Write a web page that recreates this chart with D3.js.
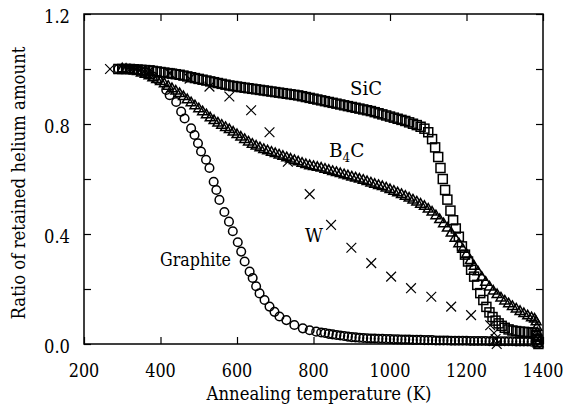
<!DOCTYPE html>
<html>
<head>
<meta charset="utf-8">
<script src="https://cdn.jsdelivr.net/npm/d3@7"></script>
<style>
    body { margin: 0; background: #fff; }
</style>
</head>
<body>
<svg id="chart" width="568" height="410"></svg>
<script>
// Helium retention vs annealing temperature

const xTicks = [200, 400, 600, 800, 1000, 1200, 1400];
const yTicks = [0, 0.2, 0.4, 0.6, 0.8, 1.0, 1.2];
const yLabels = [0, 0.4, 0.8, 1.2];

// SiC (squares)
const sicT = [290, 300, 310, 320, 330, 340, 350, 360, 370, 380, 390, 400, 410, 420, 430, 440, 450, 460, 470, 480,
    490, 500, 510, 520, 530, 540, 550, 560, 570, 580, 590, 600, 610, 620, 630, 640, 650, 660, 670, 680,
    690, 700, 710, 720, 730, 740, 750, 760, 770, 780, 790, 800, 810, 820, 830, 840, 850, 860, 870, 880,
    890, 900, 910, 920, 930, 940, 950, 960, 970, 980, 990, 1000, 1010, 1020, 1030, 1040, 1050, 1060, 1070, 1080,
    1090, 1100, 1110, 1118, 1126, 1132, 1138, 1144, 1150, 1158, 1165, 1172, 1180, 1188, 1196, 1204, 1212, 1220, 1228, 1236,
    1244, 1252, 1260, 1268, 1276, 1284, 1292, 1300, 1310, 1320, 1330, 1340, 1350, 1360, 1370, 1378, 1382, 1385, 1387, 1388];
const sicV = [1.000, 1.000, 1.000, 1.000, 0.999, 0.998, 0.997, 0.996, 0.995, 0.993, 0.991, 0.989, 0.987, 0.985, 0.983, 0.981, 0.979, 0.976, 0.973, 0.970,
    0.967, 0.964, 0.961, 0.958, 0.955, 0.952, 0.949, 0.946, 0.943, 0.940, 0.938, 0.936, 0.934, 0.932, 0.930, 0.928, 0.926, 0.924, 0.922, 0.920,
    0.918, 0.916, 0.914, 0.912, 0.910, 0.908, 0.906, 0.904, 0.901, 0.898, 0.895, 0.892, 0.889, 0.886, 0.883, 0.880, 0.877, 0.874, 0.871, 0.868,
    0.865, 0.862, 0.859, 0.856, 0.853, 0.850, 0.847, 0.843, 0.839, 0.835, 0.831, 0.827, 0.823, 0.819, 0.815, 0.811, 0.806, 0.801, 0.796, 0.790,
    0.783, 0.770, 0.745, 0.715, 0.680, 0.640, 0.600, 0.560, 0.525, 0.485, 0.450, 0.420, 0.390, 0.355, 0.325, 0.300, 0.270, 0.245, 0.215, 0.185,
    0.160, 0.135, 0.115, 0.098, 0.085, 0.075, 0.066, 0.059, 0.053, 0.049, 0.047, 0.045, 0.044, 0.043, 0.042, 0.040, 0.030, 0.018, 0.008, 0.000];

// B4C (triangles)
const b4cT = [300, 310, 320, 330, 340, 350, 360, 370, 380, 390, 400, 410, 420, 430, 440, 450, 460, 470, 480, 490,
    500, 510, 520, 530, 540, 550, 560, 570, 580, 590, 600, 610, 620, 630, 640, 650, 660, 670, 680, 690,
    700, 710, 720, 730, 740, 750, 760, 770, 780, 790, 800, 810, 820, 830, 840, 850, 860, 870, 880, 890,
    900, 910, 920, 930, 940, 950, 960, 970, 980, 990, 1000, 1010, 1020, 1030, 1040, 1050, 1060, 1070, 1080, 1090,
    1100, 1110, 1120, 1130, 1140, 1150, 1160, 1170, 1180, 1190, 1200, 1210, 1220, 1230, 1240, 1250, 1260, 1270, 1280, 1290,
    1300, 1310, 1320, 1330, 1340, 1350, 1360, 1370, 1378, 1382, 1384, 1385, 1386, 1387];
const b4cV = [1.000, 0.998, 0.996, 0.993, 0.990, 0.985, 0.980, 0.975, 0.968, 0.961, 0.954, 0.946, 0.937, 0.928, 0.919, 0.910, 0.899, 0.888, 0.877, 0.866,
    0.855, 0.844, 0.833, 0.822, 0.812, 0.803, 0.795, 0.787, 0.779, 0.770, 0.761, 0.752, 0.743, 0.734, 0.726, 0.719, 0.713, 0.707, 0.702, 0.697,
    0.692, 0.687, 0.682, 0.677, 0.672, 0.667, 0.662, 0.657, 0.652, 0.648, 0.645, 0.642, 0.639, 0.635, 0.631, 0.627, 0.623, 0.619, 0.615, 0.611,
    0.607, 0.603, 0.599, 0.595, 0.590, 0.585, 0.580, 0.576, 0.572, 0.567, 0.561, 0.555, 0.549, 0.543, 0.537, 0.530, 0.523, 0.516, 0.508, 0.500,
    0.490, 0.479, 0.466, 0.452, 0.437, 0.421, 0.403, 0.384, 0.364, 0.344, 0.325, 0.303, 0.282, 0.262, 0.242, 0.224, 0.207, 0.192, 0.179, 0.167,
    0.156, 0.146, 0.136, 0.127, 0.118, 0.110, 0.102, 0.095, 0.090, 0.080, 0.060, 0.040, 0.020, 0.000];

// Graphite (circles)
const grT = [290, 300, 310, 320, 330, 340, 350, 360, 370, 380, 393, 415, 424, 441, 454, 463, 480, 489, 498, 506,
    519, 528, 539, 546, 554, 567, 579, 589, 602, 611, 620, 633, 641, 650, 659, 672, 685, 698, 711, 729,
    750, 772, 790, 807, 820, 830, 840, 850, 860, 870, 880, 890, 900, 910, 920, 930, 940, 950, 960, 970,
    980, 990, 1000, 1010, 1020, 1030, 1040, 1050, 1060, 1070, 1080, 1090, 1100, 1110, 1120, 1130, 1140, 1150, 1160, 1170,
    1180, 1190, 1200, 1210, 1220, 1230, 1240, 1250, 1260, 1270, 1280, 1290, 1300, 1310, 1320, 1330, 1340, 1350, 1360, 1370,
    1380, 1385];
const grV = [1.000, 1.000, 1.000, 0.999, 0.998, 0.995, 0.992, 0.988, 0.982, 0.973, 0.960, 0.924, 0.905, 0.880, 0.845, 0.820, 0.784, 0.760, 0.730, 0.700,
    0.670, 0.640, 0.590, 0.560, 0.524, 0.480, 0.445, 0.410, 0.370, 0.336, 0.300, 0.263, 0.240, 0.210, 0.184, 0.160, 0.136, 0.117, 0.100, 0.087,
    0.069, 0.057, 0.050, 0.045, 0.042, 0.040, 0.037, 0.035, 0.033, 0.031, 0.029, 0.027, 0.025, 0.024, 0.023, 0.022, 0.021, 0.020, 0.020, 0.019,
    0.019, 0.018, 0.018, 0.017, 0.017, 0.016, 0.016, 0.016, 0.015, 0.015, 0.015, 0.014, 0.014, 0.014, 0.013, 0.013, 0.013, 0.013, 0.012, 0.012,
    0.012, 0.012, 0.012, 0.011, 0.011, 0.011, 0.011, 0.011, 0.010, 0.010, 0.010, 0.010, 0.010, 0.010, 0.010, 0.009, 0.009, 0.009, 0.009, 0.008,
    0.008, 0.000];

// W (crosses)
const wT = [268, 320, 372, 424, 476, 528, 580, 637, 685, 733, 790, 846, 899, 951, 1003, 1055, 1108, 1160, 1212, 1262, 1272, 1276, 1279];
const wV = [1.000, 1.000, 0.995, 0.985, 0.965, 0.936, 0.900, 0.850, 0.770, 0.663, 0.545, 0.433, 0.350, 0.294, 0.245, 0.203, 0.172, 0.136, 0.105, 0.068, 0.040, 0.018, 0.000];

const width = 568, height = 410;
const margin = { top: 14, right: 25, bottom: 66, left: 84 };
const innerWidth = width - margin.left - margin.right;
const innerHeight = height - margin.top - margin.bottom;
const serif = '"DejaVu Serif", serif';
const fontSize = '18.5px';

const svg = d3.select('#chart');
const g = svg.append('g')
    .attr('transform', `translate(${margin.left}, ${margin.top})`);

const xScale = d3.scaleLinear().domain([200, 1400]).range([0, innerWidth]);
const yScale = d3.scaleLinear().domain([0, 1.2]).range([innerHeight, 0]);

const zip = (ts, vs) => ts.map((t, i) => ({ t: t, v: vs[i] }));

// Frame
g.append('rect')
    .attr('width', innerWidth)
    .attr('height', innerHeight)
    .attr('fill', 'none')
    .attr('stroke', '#000')
    .attr('stroke-width', 1.5);

// Inward ticks on all four sides
const tickLen = 7;
function tickAxis(axis) {
    return axis.tickSizeInner(-tickLen).tickSizeOuter(0).tickFormat('');
}
g.append('g').attr('transform', `translate(0, ${innerHeight})`)
    .call(tickAxis(d3.axisBottom(xScale).tickValues(xTicks)));
g.append('g')
    .call(tickAxis(d3.axisTop(xScale).tickValues(xTicks)));
g.append('g')
    .call(tickAxis(d3.axisLeft(yScale).tickValues(yTicks)));
g.append('g').attr('transform', `translate(${innerWidth}, 0)`)
    .call(tickAxis(d3.axisRight(yScale).tickValues(yTicks)));
g.selectAll('.domain').remove();
g.selectAll('.tick text').remove();
g.selectAll('.tick line').attr('stroke', '#000').attr('stroke-width', 1.2);

// Times-like widths with the serif font we have
function fit(sel, len) {
    return sel.attr('textLength', len).attr('lengthAdjust', 'spacingAndGlyphs');
}

// Tick labels
g.selectAll('.x-label')
    .data(xTicks)
    .enter()
    .append('text')
    .attr('class', 'x-label')
    .attr('x', d => xScale(d))
    .attr('y', innerHeight + 33)
    .attr('text-anchor', 'middle')
    .style('font-family', serif)
    .style('font-size', fontSize)
    .text(d => d)
    .call(fit, d => String(d).length * 10.2);

g.selectAll('.y-label')
    .data(yLabels)
    .enter()
    .append('text')
    .attr('class', 'y-label')
    .attr('x', -14)
    .attr('y', d => yScale(d))
    .attr('dy', '0.5em')
    .attr('text-anchor', 'end')
    .style('font-family', serif)
    .style('font-size', fontSize)
    .text(d => d3.format('.1f')(d))
    .call(fit, 26);

// Axis titles
svg.append('text')
    .attr('x', 319)
    .attr('y', 400)
    .attr('text-anchor', 'middle')
    .style('font-family', serif)
    .style('font-size', fontSize)
    .text('Annealing temperature (K)')
    .call(fit, 225);

svg.append('text')
    .attr('transform', 'translate(25, 183) rotate(-90)')
    .attr('text-anchor', 'middle')
    .style('font-family', serif)
    .style('font-size', fontSize)
    .text('Ratio of retained helium amount')
    .call(fit, 273);

// Markers
const markStyle = sel => sel
    .attr('fill', 'none')
    .attr('stroke', '#000')
    .attr('stroke-width', 1.5);

markStyle(g.append('g').selectAll('circle')
    .data(zip(grT, grV))
    .enter()
    .append('circle')
    .attr('cx', d => xScale(d.t))
    .attr('cy', d => yScale(d.v))
    .attr('r', 4.3));

const sq = 9;
markStyle(g.append('g').selectAll('rect')
    .data(zip(sicT, sicV))
    .enter()
    .append('rect')
    .attr('x', d => xScale(d.t) - sq / 2)
    .attr('y', d => yScale(d.v) - sq / 2)
    .attr('width', sq)
    .attr('height', sq));

const tri = d3.symbol().type(d3.symbolTriangle).size(42);
markStyle(g.append('g').selectAll('path')
    .data(zip(b4cT, b4cV))
    .enter()
    .append('path')
    .attr('transform', d => `translate(${xScale(d.t)}, ${yScale(d.v)})`)
    .attr('d', tri));

const cross = d3.symbol().type(d3.symbolTimes).size(64);
g.append('g').selectAll('path')
    .data(zip(wT, wV))
    .enter()
    .append('path')
    .attr('transform', d => `translate(${xScale(d.t)}, ${yScale(d.v)})`)
    .attr('d', cross)
    .attr('fill', 'none')
    .attr('stroke', '#000')
    .attr('stroke-width', 1.2);

// Series labels
const label = (x, y) => svg.append('text')
    .attr('x', x).attr('y', y)
    .style('font-family', serif)
    .style('font-size', fontSize);
label(350, 95).text('SiC').call(fit, 32);
const b4c = label(329, 157);
b4c.append('tspan').text('B');
b4c.append('tspan').attr('dy', 5).style('font-size', '12px').text('4');
b4c.append('tspan').attr('dy', -5).text('C');
label(305, 242).text('W').call(fit, 18);
label(160, 266).text('Graphite').call(fit, 71);
</script>
</body>
</html>
